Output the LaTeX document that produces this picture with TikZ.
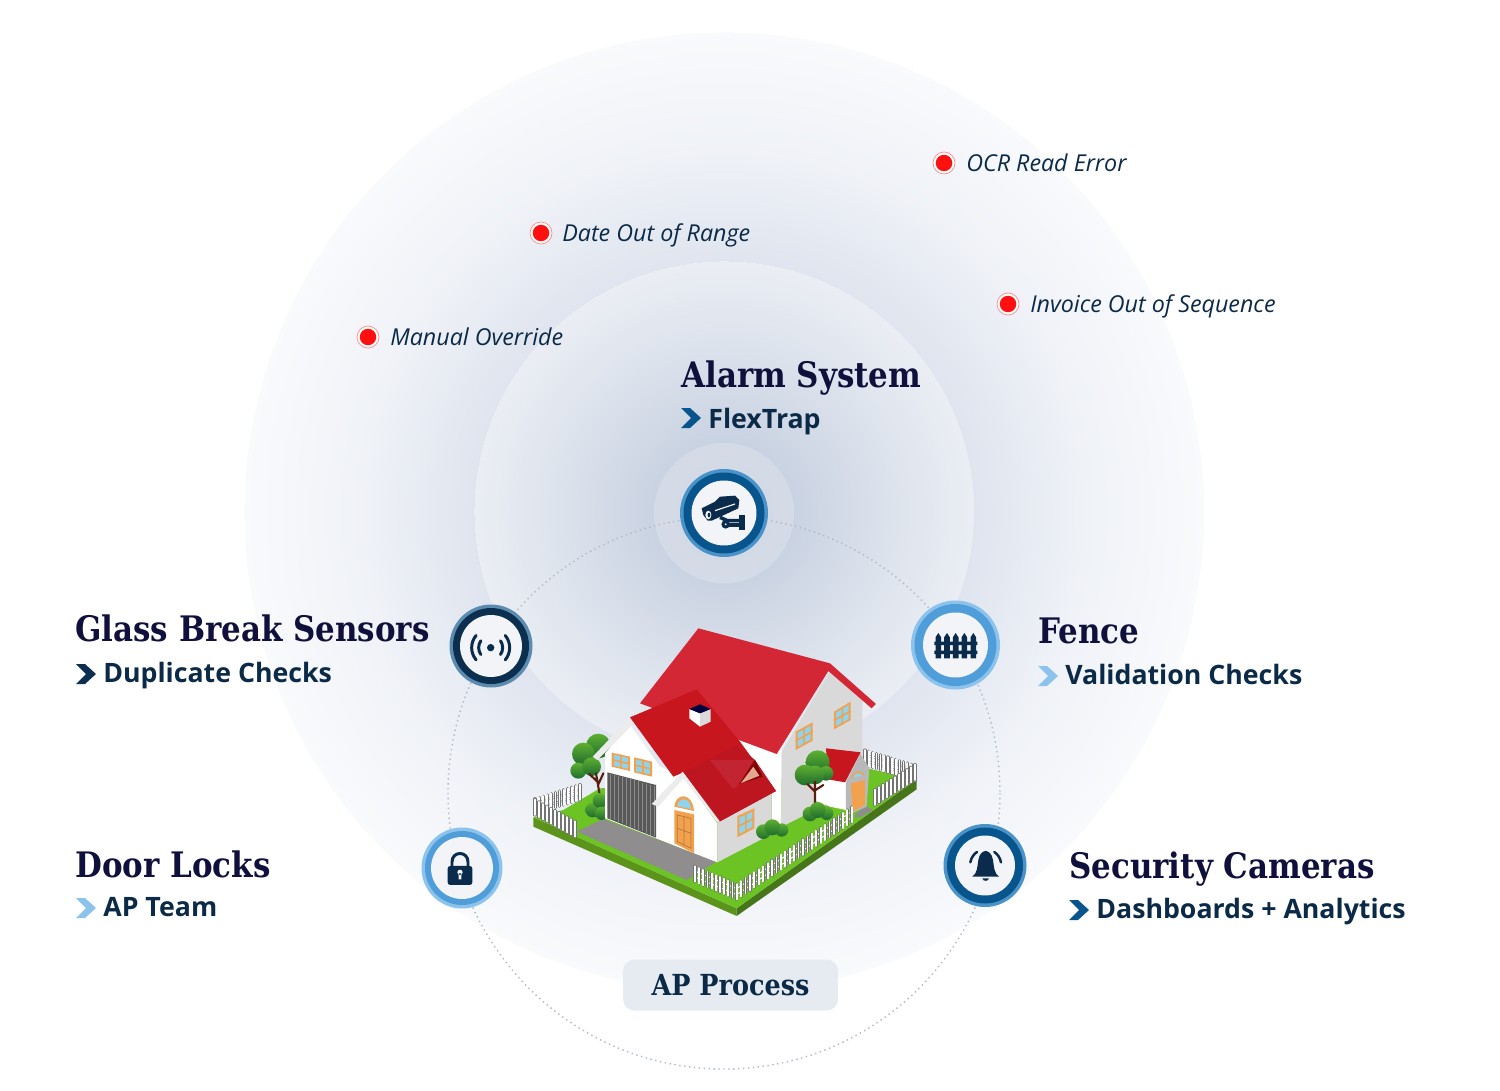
\documentclass[tikz,border=0pt]{standalone}
\usepackage{fontspec}
\usetikzlibrary{calc}
\setmainfont{Open Sans}
\newfontfamily\slabfont{DejaVu Serif}[FakeStretch=0.88]
\definecolor{headcol}{HTML}{10103C}
\definecolor{subcol}{HTML}{0B2A47}
\definecolor{iconcol}{HTML}{0A2B4C}
\definecolor{lightband}{HTML}{4F9DD9}
\definecolor{lightedge}{HTML}{8CC3EC}
\definecolor{midband}{HTML}{07558C}
\definecolor{midedge}{HTML}{4A93C8}
\definecolor{darkband}{HTML}{0C2F4F}
\definecolor{darkedge}{HTML}{5B8CB0}
\definecolor{faceback}{HTML}{F2F4F8}
\definecolor{roofmain}{HTML}{D42735}
\definecolor{roofwing}{HTML}{C8161F}
\definecolor{roofdark}{HTML}{BD1620}
\definecolor{wallgrey}{HTML}{D9D9D9}
\definecolor{woodcol}{HTML}{F2A24E}
\definecolor{panecol}{HTML}{8FD4EF}
\definecolor{grasscol}{HTML}{6CC324}
\definecolor{grassleft}{HTML}{5C941B}
\definecolor{grassright}{HTML}{47761A}
\definecolor{drivecol}{HTML}{8F8D8E}
\definecolor{leaftop}{HTML}{5DB030}
\definecolor{leafbot}{HTML}{1F6B2F}
\definecolor{trackcol}{HTML}{AEB9CA}
\definecolor{tagcol}{HTML}{E6EBF1}
\definecolor{dotred}{HTML}{FF1010}
\definecolor{trunkcol}{HTML}{5A1E10}
\pgfdeclareradialshading{outerglow}{\pgfpoint{0bp}{0bp}}{rgb(0bp)=(0.86,0.885,0.925); rgb(13bp)=(0.875,0.895,0.935); rgb(19bp)=(0.94,0.95,0.97); rgb(25bp)=(0.975,0.98,0.988)}
\pgfdeclareradialshading{innerglow}{\pgfpoint{0bp}{0bp}}{rgb(0bp)=(0.76,0.80,0.87); rgb(7bp)=(0.79,0.825,0.885); rgb(16bp)=(0.86,0.885,0.925); rgb(25bp)=(0.92,0.932,0.955)}
\tikzset{
  head/.style={font=\slabfont\bfseries\fontsize{20}{24}\selectfont, text=headcol, anchor=base west, inner sep=0pt},
  sub/.style={font=\bfseries\fontsize{15.2}{19}\selectfont, text=subcol, anchor=base west, inner sep=0pt},
  issue/.style={font=\itshape\fontsize{13.25}{16}\selectfont, text=subcol, anchor=base west, inner sep=0pt},
  zoomed/.style={x=0.02cm/3, y=-0.02cm/3},
  picket/.style={draw=black!55, double=white, double distance=1pt, line width=0.4pt, line cap=round},
  rail/.style={draw=black!50, double=white, double distance=0.6pt, line width=0.3pt},
  trunk/.style={draw=trunkcol, line width=1.2pt, line cap=round},
}
\newcommand{\ringicon}[6]{% name, position, outer r, inner r, edge colour, band colour
  \fill[#5] #2 circle (#3);
  \fill[#6] #2 circle (#3-3.5);
  \node[circle, fill=faceback, inner sep=0pt, minimum size=#4*0.04cm] (#1) at #2 {};
}
\newcommand{\chevron}[3]{% left top x, y, colour
  \fill[#3] (#1,#2) -- ++(9,0) -- ++(11,10) -- ++(-11,10) -- ++(-9,0) -- ++(10,-10) -- cycle;
}
\newcommand{\redmark}[2]{% name, position
  \fill[white] #2 circle (11);
  \draw[red!45!white, line width=0.4pt] #2 circle (11);
  \node[circle, fill=dotred, inner sep=0pt, minimum size=0.33cm] (#1) at #2 {};
}
\newcommand{\picketrow}[3]{% base start, base end, pickets
  \draw[rail] ($#1+(0,-14)$) -- ($#2+(0,-14)$);
  \draw[rail] ($#1+(0,-32)$) -- ($#2+(0,-32)$);
  \foreach \i in {0,...,#3} {
    \pgfmathsetmacro{\f}{\i/#3}
    \draw[picket] ($#1!\f!#2$) -- ++(0,-46);
  }
}
\newcommand{\houseglass}[4]{% window corners
  \fill[woodcol] #1 -- #2 -- #3 -- #4 -- cycle;
  \fill[panecol] ($#1!0.12!#3$) -- ($#2!0.12!#4$) -- ($#3!0.12!#1$) -- ($#4!0.12!#2$) -- cycle;
  \draw[woodcol, line width=0.9pt] ($#1!0.5!#2$) -- ($#4!0.5!#3$) ($#1!0.5!#4$) -- ($#2!0.5!#3$);
}
\newcommand{\lumps}[1]{% list of x/y/r
  \foreach \lx/\ly/\lr in {#1}
    \shade[top color=leaftop, bottom color=leafbot] (\lx,\ly) circle (\lr);
}
\begin{document}
\begin{tikzpicture}[x=0.02cm, y=-0.02cm]
  \useasboundingbox (0,0) rectangle (1500,1091);
  % glow discs
  \shade[shading=outerglow] (724,512) circle (480);
  \shade[shading=innerglow] (724,511) circle (250);
  \fill[white, opacity=0.22] (724,513) circle (70);
  % dotted track
  \draw[trackcol, line width=0.8pt, dotted] (724,793) circle (276);

  % house
  \begin{scope}[shift={(520,610)}, zoomed]
    \fill[grassleft] (40,622) -- (650,895) -- (650,918) -- (40,650) -- cycle;
    \fill[grassright] (650,895) -- (1190,508) -- (1190,538) -- (650,918) -- cycle;
    \fill[grasscol] (40,622) -- (650,895) -- (1190,508) -- (1040,475) -- (900,500) -- (240,535) -- (130,600) -- cycle;
    \picketrow{(45,612)}{(180,570)}{11}
    \picketrow{(1035,466)}{(1185,512)}{13}
    \fill[drivecol] (170,665) -- (250,627) -- (590,755) -- (500,810) -- cycle;
    \fill[drivecol] (1000,620) -- (1035,588) -- (1060,600) -- (1020,622) -- cycle;
    % left tree and bush
    \lumps{235/408/37, 190/432/34, 175/482/24, 215/470/28}
    \draw[trunk] (238,548) -- (228,490) (232,515) -- (208,492) (234,525) -- (250,490);
    \lumps{218/600/22, 240/572/22, 245/610/20}
    % main block
    \fill[white] (640,385) -- (785,420) -- (785,650) -- (755,635) -- (755,540) -- cycle;
    \fill[wallgrey] (785,425) -- (930,185) -- (1027,272) -- (1027,530) -- (785,650) -- cycle;
    \fill[roofmain] (535,55) -- (930,160) -- (1068,282) -- (1055,295) -- (925,183) -- (770,432) -- (360,280) -- cycle;
    \houseglass{(827,365)}{(878,337)}{(878,392)}{(827,420)}
    \houseglass{(942,305)}{(992,275)}{(992,330)}{(942,358)}
    % annex
    \fill[white] (885,505) -- (978,515) -- (978,600) -- (930,590) -- (885,570) -- cycle;
    \fill[wallgrey!85!black] (1022,432) -- (1048,475) -- (1040,590) -- (1000,608) -- (978,595) -- (978,517) -- cycle;
    \fill[roofwing] (918,415) -- (1022,427) -- (975,517) -- (925,508) -- cycle;
    \fill[woodcol] (993,520) -- (1035,510) -- (1035,585) -- (997,605) -- cycle;
    \fill[woodcol] (992,505) .. controls (1000,480) and (1025,478) .. (1033,495) -- cycle;
    \fill[panecol] (998,503) .. controls (1004,488) and (1020,486) .. (1028,497) -- cycle;
    % right tree and bush
    \lumps{893/457/36, 855/495/31, 918/490/22, 885/495/28}
    \draw[trunk] (885,580) -- (885,515) (885,545) -- (862,522) (887,540) -- (910,525);
    \lumps{870/612/22, 920/610/20, 893/600/24}
    % left wing
    \fill[white] (255,430) -- (330,345) -- (420,470) -- (490,500) -- (592,640) -- (592,757) -- (255,625) -- cycle;
    \fill[white!85!gray] (218,440) -- (325,328) -- (332,350) -- (232,450) -- cycle;
    \fill[black!65] (262,487) -- (408,525) -- (408,683) -- (262,625) -- cycle;
    \foreach \gx in {272,284,...,404}
      \draw[black!45, line width=0.3pt] (\gx,{487+(\gx-262)*0.26+3}) -- (\gx,{625+(\gx-262)*0.4-3});
    \houseglass{(275,428)}{(330,440)}{(330,483)}{(275,470)}
    \houseglass{(342,442)}{(396,455)}{(396,500)}{(342,487)}
    \fill[wallgrey] (592,635) -- (755,545) -- (755,672) -- (592,757) -- cycle;
    \fill[roofwing] (330,322) -- (530,238) -- (660,395) -- (768,543) -- (598,635) -- (490,487) -- (460,500) -- cycle;
    \fill[roofdark] (490,487) -- (650,405) -- (705,450) -- (768,543) -- (598,635) -- cycle;
    \fill[roofmain!92!black] (570,450) -- (700,450) -- (658,522) -- (640,537) -- cycle;
    \fill[black!50!red] (705,450) -- (728,500) -- (658,522) -- cycle;
    \fill[red!25!brown!55!white] (700,470) -- (718,497) -- (662,520) -- cycle;
    \fill[white!85!gray] (395,582) -- (488,485) -- (600,635) -- (590,635) -- (490,505) -- (415,590) -- cycle;
    \fill[woodcol] (463,600) -- (522,613) -- (522,730) -- (463,700) -- cycle;
    \draw[black!20!brown!70!woodcol, line width=0.4pt] (472,615) -- (513,625) -- (513,715) -- (472,695) -- cycle (492,620) -- (492,705) (472,655) -- (513,670);
    \fill[woodcol] (463,590) .. controls (468,545) and (518,548) .. (522,603) -- cycle;
    \fill[panecol] (472,588) .. controls (476,560) and (510,560) .. (514,597) -- cycle;
    \houseglass{(652,618)}{(703,595)}{(703,655)}{(652,682)}
    % chimney
    \fill[white] (508,297) -- (540,310) -- (540,350) -- (508,325) -- cycle;
    \fill[wallgrey] (540,310) -- (572,297) -- (572,335) -- (540,350) -- cycle;
    \fill[black!75!blue] (508,297) -- (540,283) -- (572,297) -- (540,310) -- cycle;
    % front bushes
    \lumps{730/665/22, 785/660/20, 757/652/24}
    % front fence
    \picketrow{(525,815)}{(650,868)}{10}
    \picketrow{(650,868)}{(995,637)}{26}
    \picketrow{(45,615)}{(165,680)}{10}
    \picketrow{(1065,585)}{(1185,510)}{10}
  \end{scope}

  % rings and glyphs
  \ringicon{alarmring}{(724,513)}{44}{32.5}{midedge}{midband}
  \ringicon{glassring}{(491,646)}{41.5}{31}{darkedge}{darkband}
  \ringicon{fencering}{(955.5,645)}{44.5}{32.5}{lightedge}{lightband}
  \ringicon{doorring}{(462,868)}{40.5}{31}{lightedge}{lightband}
  \ringicon{bellring}{(985,865.5)}{41.5}{30}{midedge}{midband}

  % camera
  \begin{scope}[shift={(640,430)}, zoomed]
    \fill[iconcol] (185,235) -- (225,215) -- (240,200) -- (285,197) -- (298,210) -- (295,235) -- (215,272) -- (203,272) -- (190,255) -- cycle;
    \draw[faceback, line width=0.7pt] (225,242) -- (285,222);
    \fill[faceback] (205,255) ellipse (9 and 13);
    \fill[iconcol] (207,255) ellipse (4 and 7);
    \fill[iconcol] (298,254) rectangle (314,301);
    \draw[iconcol, line width=2pt] (240,262) -- (262,272) -- (298,272);
    \draw[iconcol, line width=1.7pt] (257,283) circle (8);
    \draw[iconcol, line width=2.4pt] (265,285) -- (298,285);
  \end{scope}
  % signal, lock
  \begin{scope}[shift={(410,590)}, zoomed]
    \fill[iconcol] (242,173) circle (11);
    \draw[iconcol, line width=1.7pt, line cap=round] (242,173) ++(145:36) arc (145:215:36);
    \draw[iconcol, line width=1.7pt, line cap=round] (242,173) ++(-35:36) arc (-35:35:36);
    \draw[iconcol, line width=1.7pt, line cap=round] (242,173) ++(140:57) arc (140:220:57);
    \draw[iconcol, line width=1.7pt, line cap=round] (242,173) ++(-40:57) arc (-40:40:57);
    \fill[iconcol, rounded corners=1.5pt] (113,828) rectangle (187,885);
    \draw[iconcol, line width=1.7pt] (126,830) -- (126,816) .. controls (126,782) and (174,782) .. (174,816) -- (174,830);
    \fill[faceback] (150,847) circle (8) (146,850) rectangle (154,868);
  \end{scope}
  % fence, bell
  \begin{scope}[shift={(900,590)}, zoomed]
    \foreach \px in {115,141,167,193,220}
      \fill[iconcol] (\px-8.5,205) -- (\px-8.5,142) -- (\px,129) -- (\px+8.5,142) -- (\px+8.5,205) -- cycle;
    \fill[iconcol] (103,155) rectangle (232,165) (103,182) rectangle (232,192);
    \fill[iconcol] (217,860) .. controls (232,850) and (232,830) .. (235,810) .. controls (238,790) and (250,783) .. (257,783) .. controls (264,783) and (276,790) .. (279,810) .. controls (282,830) and (282,850) .. (297,860) -- cycle;
    \fill[iconcol] (247,865) -- (267,865) .. controls (265,875) and (249,875) .. (247,865) -- cycle;
    \draw[iconcol, line width=1.4pt, line cap=round] (211,817) .. controls (214,802) and (222,792) .. (231,786);
    \draw[iconcol, line width=1.4pt, line cap=round] (303,817) .. controls (300,802) and (292,792) .. (283,786);
  \end{scope}

  % issues
  \redmark{manualdot}{(368,337)}
  \redmark{datedot}{(541,233)}
  \redmark{ocrdot}{(944,163)}
  \redmark{invoicedot}{(1008,304)}
  \node[issue] (manual) at (390,345) {Manual Override};
  \node[issue] (date) at (562,241) {Date Out of Range};
  \node[issue] (ocr) at (966,172) {OCR Read Error};
  \node[issue] (invoice) at (1030,312) {Invoice Out of Sequence};

  % layers
  \node[head] (alarm) at (681,387) {Alarm System};
  \chevron{681}{408}{midband}
  \node[sub] (flextrap) at (708,428) {FlexTrap};
  \node[head] (glass) at (75,641) {Glass Break Sensors};
  \chevron{76}{664}{darkband}
  \node[sub] (duplicate) at (103,682) {Duplicate Checks};
  \node[head] (fence) at (1038,643) {Fence};
  \chevron{1038}{666}{lightedge}
  \node[sub] (validation) at (1065,684) {Validation Checks};
  \node[head] (door) at (75,877) {Door Locks};
  \chevron{76}{898}{lightedge}
  \node[sub] (apteam) at (103,916) {AP Team};
  \node[head] (security) at (1069,878) {Security Cameras};
  \chevron{1069}{900}{midband}
  \node[sub] (dashboards) at (1096,918) {Dashboards + Analytics};

  \node[fill=tagcol, rounded corners=6.5pt, minimum width=4.3cm, minimum height=1.02cm, inner sep=0pt, font=\slabfont\bfseries\fontsize{16.5}{20}\selectfont, text=subcol] (approcess) at (730.5,985) {AP Process};
\end{tikzpicture}
\end{document}
